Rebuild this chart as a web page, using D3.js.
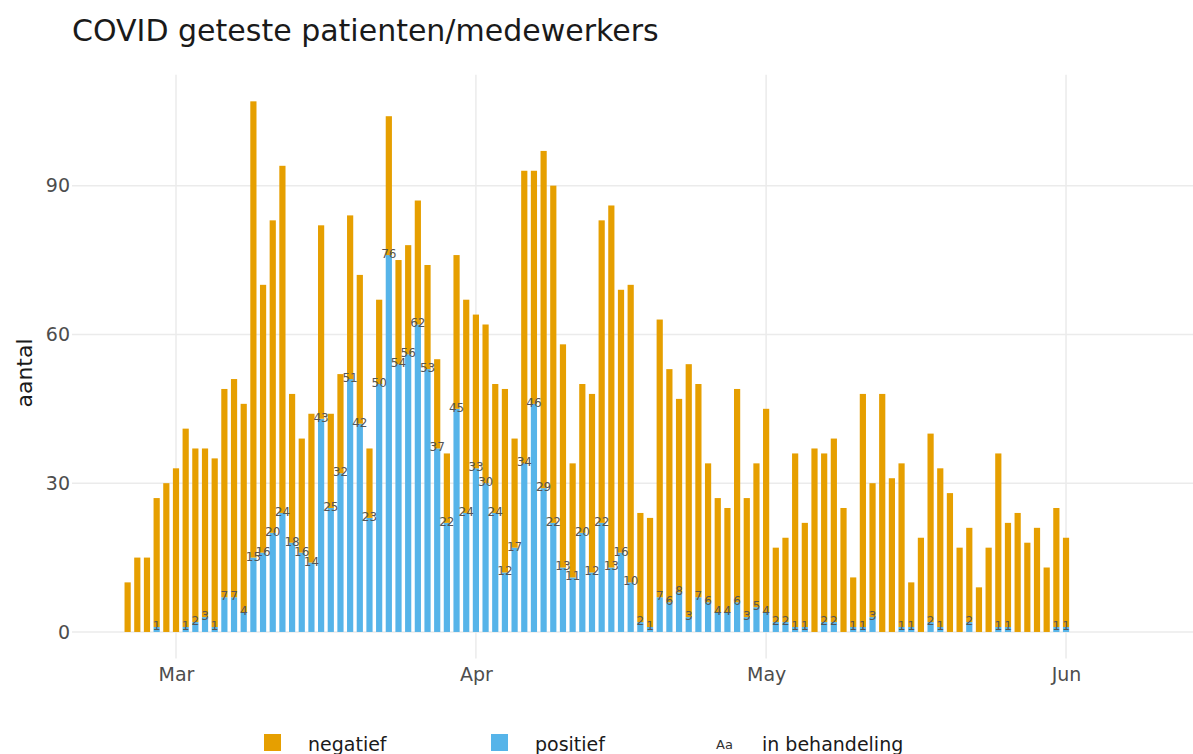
<!doctype html>
<html lang="nl">

<head>
  <meta charset="UTF-8">
  <title>COVID geteste patienten/medewerkers</title>
  <style type="text/css">
    body { margin: 0; background: #fff; }
    svg { display: block; font-family: "DejaVu Sans", Verdana, sans-serif; }
  </style>
  <script src="https://cdn.jsdelivr.net/npm/d3@7"></script>
</head>

<body>
  <svg id="chart" width="1193" height="754"></svg>
  <script>
    // eerste dag in de reeks, daarna elke dag een staaf
    let startDate = "2020-02-25"
    let positief = [0, 0, 0, 1, 0, 0, 1, 2, 3, 1,
      7, 7, 4, 15, 16, 20, 24, 18, 16, 14,
      43, 25, 32, 51, 42, 23, 50, 76, 54, 56,
      62, 53, 37, 22, 45, 24, 33, 30, 24, 12,
      17, 34, 46, 29, 22, 13, 11, 20, 12, 22,
      13, 16, 10, 2, 1, 7, 6, 8, 3, 7,
      6, 4, 4, 6, 3, 5, 4, 2, 2, 1,
      1, 0, 2, 2, 0, 1, 1, 3, 0, 0,
      1, 1, 0, 2, 1, 0, 0, 2, 0, 0,
      1, 1, 0, 0, 0, 0, 1, 1]
    let negatief = [10, 15, 15, 26, 30, 33, 40, 35, 34, 34,
      42, 44, 42, 92, 54, 63, 70, 30, 23, 30,
      39, 19, 20, 33, 30, 14, 17, 28, 21, 22,
      25, 21, 18, 14, 31, 43, 31, 32, 26, 37,
      22, 59, 47, 68, 68, 45, 23, 30, 36, 61,
      73, 53, 60, 22, 22, 56, 47, 39, 51, 43,
      28, 23, 21, 43, 24, 29, 41, 15, 17, 35,
      21, 37, 34, 37, 25, 10, 47, 27, 48, 31,
      33, 9, 19, 38, 32, 28, 17, 19, 9, 17,
      35, 21, 24, 18, 21, 13, 24, 18]
    let yTicks = [0, 30, 60, 90]
    let monthTicks = ["2020-03-01", "2020-04-01", "2020-05-01", "2020-06-01"]
    let legendItems = ["negatief", "positief", "in behandeling"]

    let colNeg = "#E69F00"
    let colPos = "#56B4E9"

    let parse = d3.utcParse("%Y-%m-%d")
    let day0 = parse(startDate)
    let data = positief.map(function (p, i) {
      return { date: d3.utcDay.offset(day0, i), pos: p, neg: negatief[i] }
    })

    let svg = d3.select("#chart")
    let plotLeft = 72, plotRight = 1193, plotTop = 74.8, plotBottom = 658.5

    let x = d3.scaleUtc()
      .domain([new Date(Date.UTC(2020, 1, 19, 6)), new Date(Date.UTC(2020, 5, 14, 3))])
      .range([plotLeft, plotRight])
    let y = d3.scaleLinear().domain([-5.35, 112.35]).range([plotBottom, plotTop])
    let barW = 6.2

    // rasterlijnen
    svg.append("g").selectAll("line")
      .data(yTicks)
      .enter().append("line")
      .attr("x1", plotLeft).attr("x2", plotRight)
      .attr("y1", function (d) { return y(d) })
      .attr("y2", function (d) { return y(d) })
      .attr("stroke", "#ebebeb").attr("stroke-width", 1.5)
    svg.append("g").selectAll("line")
      .data(monthTicks.map(parse))
      .enter().append("line")
      .attr("x1", function (d) { return x(d) })
      .attr("x2", function (d) { return x(d) })
      .attr("y1", plotTop).attr("y2", plotBottom)
      .attr("stroke", "#ebebeb").attr("stroke-width", 1.5)

    // assen
    svg.append("g")
      .attr("transform", "translate(" + (plotLeft - 2) + ",0)")
      .call(d3.axisLeft(y).tickValues(yTicks).tickSize(0).tickPadding(0))
    svg.append("g")
      .attr("transform", "translate(0," + plotBottom + ")")
      .call(d3.axisBottom(x).tickValues(monthTicks.map(parse))
        .tickFormat(d3.utcFormat("%b")).tickSize(0).tickPadding(9))
    svg.selectAll(".domain").remove()
    svg.selectAll(".tick text")
      .attr("fill", "#4d4d4d")
      .style("font-size", "19px")
      .style("font-family", "DejaVu Sans, Verdana, sans-serif")

    // staven
    let bars = svg.append("g").selectAll("g")
      .data(data)
      .enter().append("g")
    bars.append("rect")
      .attr("x", function (d) { return x(d.date) - barW / 2 })
      .attr("width", barW)
      .attr("y", function (d) { return y(d.pos) })
      .attr("height", function (d) { return y(0) - y(d.pos) })
      .attr("fill", colPos)
    bars.append("rect")
      .attr("x", function (d) { return x(d.date) - barW / 2 })
      .attr("width", barW)
      .attr("y", function (d) { return y(d.pos + d.neg) })
      .attr("height", function (d) { return y(d.pos) - y(d.pos + d.neg) })
      .attr("fill", colNeg)

    // aantallen positief
    svg.append("g").selectAll("text")
      .data(data.filter(function (d) { return d.pos > 0 }))
      .enter().append("text")
      .attr("x", function (d) { return x(d.date) })
      .attr("y", function (d) { return y(d.pos) + 3 })
      .attr("text-anchor", "middle")
      .attr("fill", "#555")
      .style("font-size", "12px")
      .text(function (d) { return d.pos })

    // titels
    svg.append("text")
      .attr("x", 72).attr("y", 41)
      .attr("fill", "#1a1a1a")
      .style("font-size", "30px")
      .text("COVID geteste patienten/medewerkers")
    svg.append("text")
      .attr("transform", "translate(32,373) rotate(-90)")
      .attr("text-anchor", "middle")
      .attr("fill", "#1a1a1a")
      .style("font-size", "22px")
      .text("aantal")

    // legenda
    let legend = svg.append("g")
    legend.append("rect").attr("x", 264).attr("y", 734).attr("width", 17).attr("height", 17).attr("fill", colNeg)
    legend.append("text").attr("x", 308).attr("y", 751).attr("fill", "#1a1a1a").style("font-size", "19px").text(legendItems[0])
    legend.append("rect").attr("x", 491).attr("y", 734).attr("width", 17).attr("height", 17).attr("fill", colPos)
    legend.append("text").attr("x", 535).attr("y", 751).attr("fill", "#1a1a1a").style("font-size", "19px").text(legendItems[1])
    legend.append("text").attr("x", 716).attr("y", 749).attr("fill", "#333").style("font-size", "13px").text("Aa")
    legend.append("text").attr("x", 762).attr("y", 751).attr("fill", "#1a1a1a").style("font-size", "19px").text(legendItems[2])
  </script>
</body>

</html>
